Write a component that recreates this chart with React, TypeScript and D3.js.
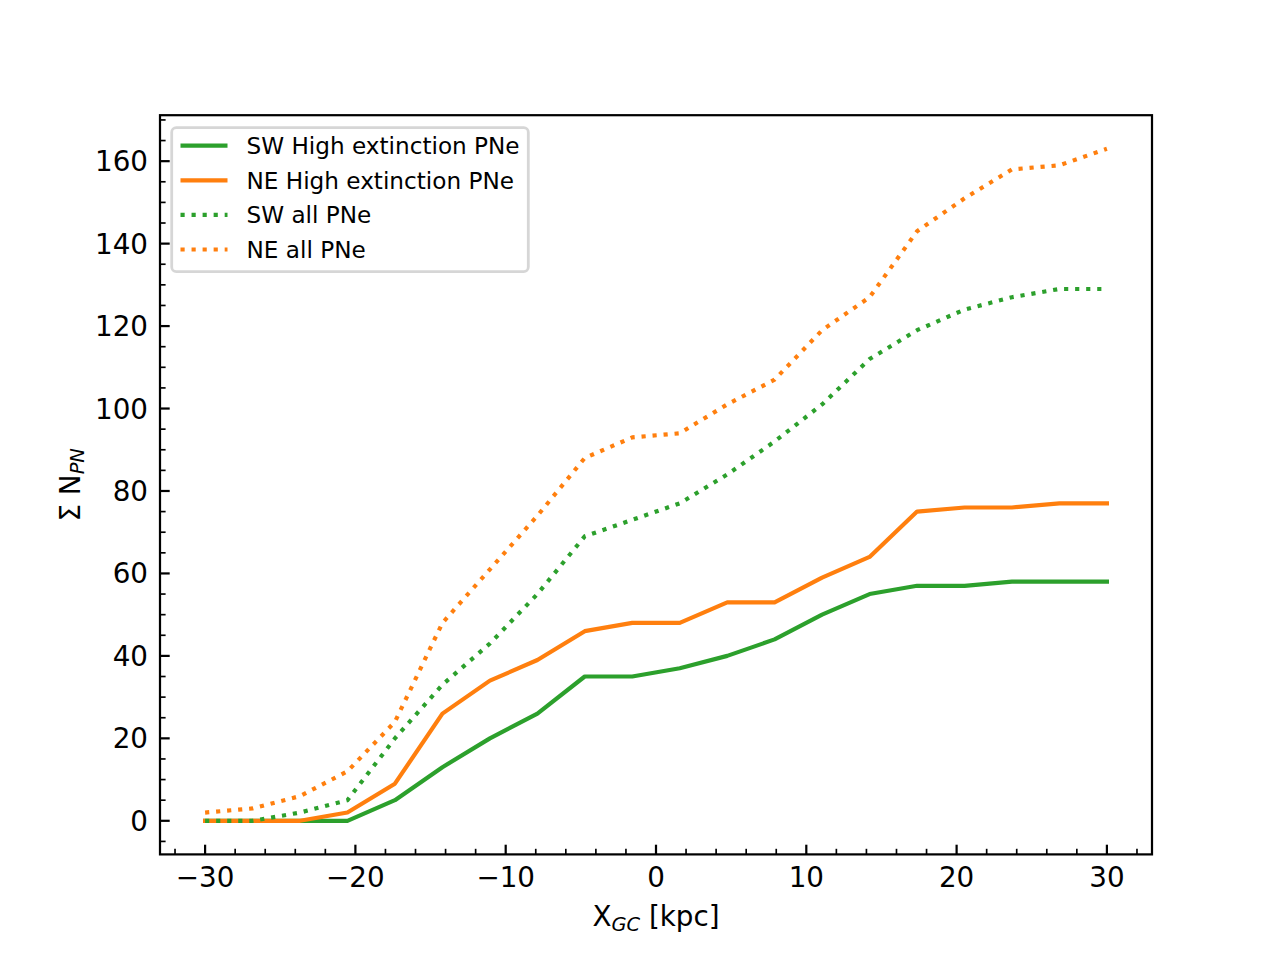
import React from "react";
import * as d3 from "d3";

const xGC = [-30, -26.84, -23.68, -20.53, -17.37, -14.21, -11.05, -7.89, -4.74, -1.58, 1.58, 4.74, 7.89, 11.05, 14.21, 17.37, 20.53, 23.68, 26.84, 30];
const swHigh = [0, 0, 0, 0, 5, 13, 20, 26, 35, 35, 37, 40, 44, 50, 55, 57, 57, 58, 58, 58];
const neHigh = [0, 0, 0, 2, 9, 26, 34, 39, 46, 48, 48, 53, 53, 59, 64, 75, 76, 76, 77, 77];
const swAll = [0, 0, 2, 5, 20, 33, 43, 55, 69, 73, 77, 84, 92, 101, 112, 119, 124, 127, 129, 129];
const neAll = [2, 3, 6, 12, 24, 48, 61, 74, 88, 93, 94, 101, 107, 119, 127, 143, 151, 158, 159, 163];

const xTicks = [-30, -20, -10, 0, 10, 20, 30];
const yTicks = [0, 20, 40, 60, 80, 100, 120, 140, 160];
const xMinor = d3.range(-32, 33, 2);
const yMinor = d3.range(-5, 171, 5);

const GREEN = "#2ca02c";
const ORANGE = "#ff7f0e";

const seriesList = [
  { label: "SW High extinction PNe", values: swHigh, color: GREEN, dotted: false },
  { label: "NE High extinction PNe", values: neHigh, color: ORANGE, dotted: false },
  { label: "SW all PNe", values: swAll, color: GREEN, dotted: true },
  { label: "NE all PNe", values: neAll, color: ORANGE, dotted: true },
];

const W = 1280, H = 960;
const L = 160, R = 1152, T = 115.2, B = 854.4;
const FONT = "'DejaVu Sans', sans-serif";
const FS = 27.78;
const LFS = 23.15;
const LW = 4.17;
const DASH = "4.17,6.875";

export default function App() {
  const x = d3.scaleLinear().domain([-33, 33]).range([L, R]);
  const y = d3.scaleLinear().domain([-8.15, 171.15]).range([B, T]);
  const line = d3.line<number>().x((_, i) => x(xGC[i])).y((v) => y(v));
  const fmt = (v: number) => (v < 0 ? "\u2212" + Math.abs(v) : String(v));

  return (
    <svg width={W} height={H} style={{ position: "absolute", left: 0, top: 0, background: "#fff" }} fontFamily={FONT}>
      <rect x={0} y={0} width={W} height={H} fill="#fff" />
      <g>
        {seriesList.map((s) => (
          <path
            key={s.label}
            d={line(s.values) || ""}
            fill="none"
            stroke={s.color}
            strokeWidth={LW}
            strokeDasharray={s.dotted ? DASH : undefined}
            strokeLinejoin="round"
            strokeLinecap={s.dotted ? "butt" : "square"}
          />
        ))}
      </g>
      {/* minor ticks */}
      {xMinor.filter((v) => xTicks.indexOf(v) < 0).map((v) => (
        <line key={"xm" + v} x1={x(v)} x2={x(v)} y1={B} y2={B - 5.6} stroke="#000" strokeWidth={1.67} />
      ))}
      {yMinor.filter((v) => yTicks.indexOf(v) < 0).map((v) => (
        <line key={"ym" + v} x1={L} x2={L + 5.6} y1={y(v)} y2={y(v)} stroke="#000" strokeWidth={1.67} />
      ))}
      {/* major ticks and labels */}
      {xTicks.map((v) => (
        <g key={"xt" + v}>
          <line x1={x(v)} x2={x(v)} y1={B} y2={B - 9.7} stroke="#000" strokeWidth={2.22} />
          <text x={x(v)} y={886.5} textAnchor="middle" fontSize={FS} fill="#000">{fmt(v)}</text>
        </g>
      ))}
      {yTicks.map((v) => (
        <g key={"yt" + v}>
          <line x1={L} x2={L + 9.7} y1={y(v)} y2={y(v)} stroke="#000" strokeWidth={2.22} />
          <text x={148} y={y(v) + 10} textAnchor="end" fontSize={FS} fill="#000">{fmt(v)}</text>
        </g>
      ))}
      {/* spines */}
      <rect x={L} y={T} width={R - L} height={B - T} fill="none" stroke="#000" strokeWidth={2.22} />
      {/* axis labels */}
      <text x={(L + R) / 2} y={925.7} textAnchor="middle" fontSize={FS} fill="#000">
        X<tspan fontStyle="italic" fontSize={FS * 0.7} dy={5}>GC</tspan>
        <tspan dy={-5}> [kpc]</tspan>
      </text>
      <text transform={`translate(80,${(T + B) / 2}) rotate(-90)`} textAnchor="middle" fontSize={FS} fill="#000">
        Σ N<tspan fontStyle="italic" fontSize={FS * 0.7} dy={4}>PN</tspan>
      </text>
      {/* legend */}
      <g>
        <rect x={171.7} y={127.7} width={356.6} height={144} rx={4.6} ry={4.6} fill="#fff" fillOpacity={0.8} stroke="#cccccc" strokeOpacity={0.8} strokeWidth={2.78} />
        {seriesList.map((s, i) => {
          const cy = 145.7 + i * 34.6;
          return (
            <g key={"lg" + i}>
              <line x1={180.5} x2={227.5} y1={cy} y2={cy} stroke={s.color} strokeWidth={LW} strokeDasharray={s.dotted ? DASH : undefined} />
              <text x={246.5} y={cy + 8.4} fontSize={LFS} fill="#000">{s.label}</text>
            </g>
          );
        })}
      </g>
    </svg>
  );
}
